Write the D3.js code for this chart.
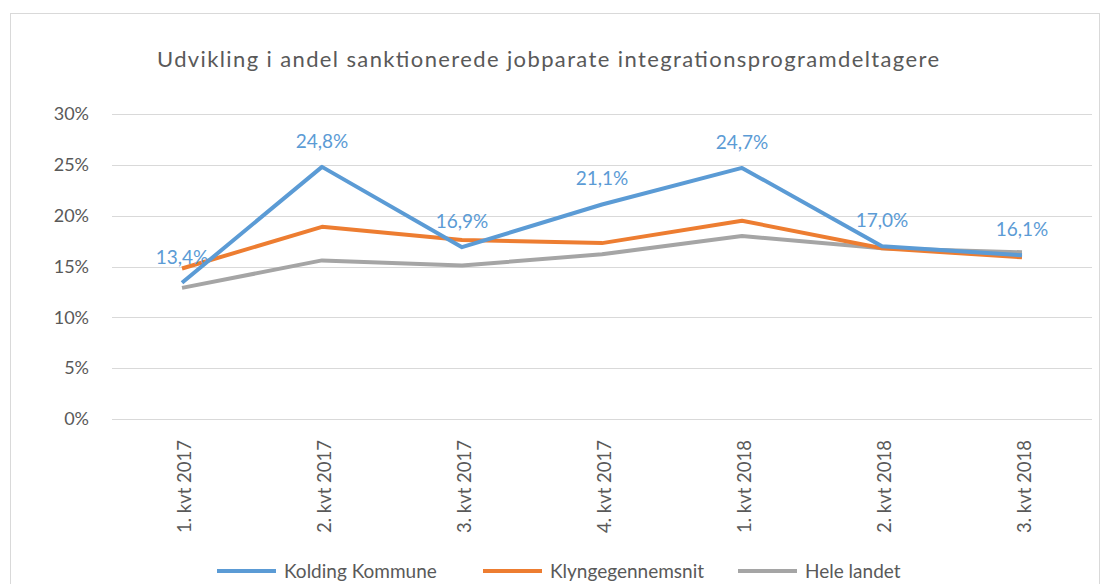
<!DOCTYPE html>
<html>
<head>
<meta charset="UTF-8">
<title>Udvikling i andel sanktionerede</title>
<style>
    body { margin: 0; background: white; font-family: Lato, "Open Sans", sans-serif; }
    .grid line { stroke: #d9d9d9; stroke-width: 1px; }
    .axis text { fill: #595959; }
    .series { fill: none; stroke-width: 4px; stroke-linejoin: round; }
</style>
</head>
<body>
<script src="https://d3js.org/d3.v7.min.js"></script>
<script>
    var width = 1110, height = 584;

    var quarters = ["1. kvt 2017", "2. kvt 2017", "3. kvt 2017", "4. kvt 2017", "1. kvt 2018", "2. kvt 2018", "3. kvt 2018"];
    var kolding = [13.4, 24.8, 16.9, 21.1, 24.7, 17.0, 16.1];
    var klynge = [14.8, 18.9, 17.6, 17.3, 19.5, 16.8, 15.9];
    var heleLandet = [12.9, 15.6, 15.1, 16.2, 18.0, 16.8, 16.4];
    var yTicks = [0, 5, 10, 15, 20, 25, 30];
    var seriesNames = ["Kolding Kommune", "Klyngegennemsnit", "Hele landet"];
    var colors = ["#5b9bd5", "#ed7d31", "#a5a5a5"];

    var svg = d3.select("body").append("svg")
        .attr("width", width)
        .attr("height", height);

    // chart frame
    svg.append("rect")
        .attr("x", 10.5).attr("y", 13.5)
        .attr("width", 1089).attr("height", 600)
        .attr("fill", "white").attr("stroke", "#d9d9d9");

    svg.append("text")
        .attr("x", 548).attr("y", 67)
        .attr("text-anchor", "middle")
        .attr("font-size", "22px")
        .attr("fill", "#595959")
        .attr("textLength", 782)
        .attr("lengthAdjust", "spacing")
        .text("Udvikling i andel sanktionerede jobparate integrationsprogramdeltagere");

    var x = d3.scalePoint().domain(quarters).range([112, 1092]).padding(0.5);
    var y = d3.scaleLinear().domain([0, 30]).range([419, 114]);

    // gridlines
    svg.append("g").attr("class", "grid")
        .selectAll("line").data(yTicks).enter().append("line")
        .attr("x1", 112).attr("x2", 1092)
        .attr("y1", function(d) { return Math.round(y(d)) + 0.5; })
        .attr("y2", function(d) { return Math.round(y(d)) + 0.5; });

    var yAxis = svg.append("g").attr("class", "axis")
        .attr("transform", "translate(112,0)")
        .call(d3.axisLeft(y).tickValues(yTicks).tickSize(0).tickPadding(23)
            .tickFormat(function(d) { return d + "%"; }));
    yAxis.select(".domain").remove();
    yAxis.selectAll("text").attr("font-size", "18px").attr("font-family", "Lato, sans-serif");

    var xAxis = svg.append("g").attr("class", "axis")
        .attr("transform", "translate(0,419)")
        .call(d3.axisBottom(x).tickSize(0));
    xAxis.select(".domain").remove();
    xAxis.selectAll("text")
        .attr("font-size", "18.5px").attr("font-family", "Lato, sans-serif")
        .attr("text-anchor", "end")
        .attr("transform", "rotate(-90)")
        .attr("x", -21).attr("y", 2).attr("dy", "0.35em");

    var line = d3.line()
        .x(function(d, i) { return x(quarters[i]); })
        .y(function(d) { return y(d); });

    var allSeries = [kolding, klynge, heleLandet];
    // draw back to front: grey, orange, blue
    [2, 1, 0].forEach(function(k) {
        svg.append("path")
            .datum(allSeries[k])
            .attr("class", "series")
            .attr("stroke", colors[k])
            .attr("d", line);
    });

    // data labels for Kolding
    svg.append("g").selectAll("text").data(kolding).enter().append("text")
        .attr("x", function(d, i) { return x(quarters[i]); })
        .attr("y", function(d) { return y(d) - 19; })
        .attr("text-anchor", "middle")
        .attr("font-size", "19px")
        .attr("fill", "#5b9bd5")
        .text(function(d) { return d.toFixed(1).replace(".", ",") + "%"; });

    // legend
    var legendX = [217, 483, 738];
    var leg = svg.append("g").selectAll("g").data(seriesNames).enter().append("g")
        .attr("transform", function(d, i) { return "translate(" + legendX[i] + ",571)"; });
    leg.append("line")
        .attr("x1", 0).attr("x2", 59).attr("y1", 0).attr("y2", 0)
        .attr("stroke", function(d, i) { return colors[i]; })
        .attr("stroke-width", 4);
    leg.append("text")
        .attr("x", 67).attr("y", 0).attr("dy", "0.35em")
        .attr("font-size", "19px").attr("fill", "#595959")
        .text(function(d) { return d; });
</script>
</body>
</html>
